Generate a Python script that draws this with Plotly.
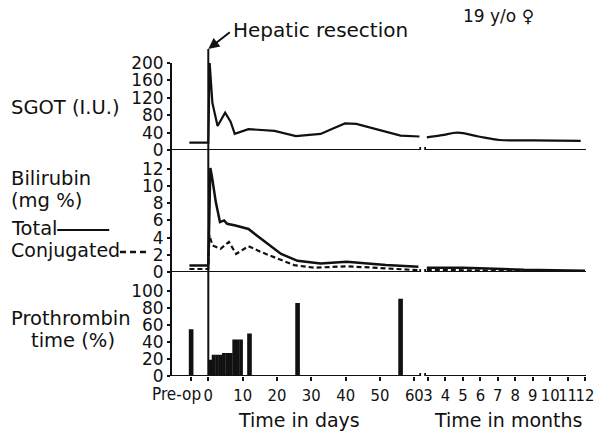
import plotly.graph_objects as go

# ---------------- data ----------------
# SGOT (I.U.)
sgot_days = [-5.5, 0, 0.4, 1.2, 2.7, 4.9, 6.5, 7.7, 11.7, 19.3, 25.5, 32.7, 36.5, 39.8, 43.1, 46.5, 49.8, 56, 61.5]
sgot_day_vals = [17, 17, 200, 108, 55, 86, 65, 37, 48, 44, 32, 37, 50, 61, 60, 53, 46, 33, 31]
sgot_months = [2.93, 3.8, 4.7, 5.9, 7.1, 9.0, 11.75]
sgot_month_vals = [29, 34, 40, 31, 23, 22, 21]

# Bilirubin (mg %)
bili_days = [-5.5, 0, 0.6, 1.1, 2.2, 3.4, 4.6, 5.5, 7.9, 11.7, 14.6, 21.2, 26, 32.7, 40.3, 45, 51.7, 61.2]
bili_total_days = [0.75, 0.75, 12.1, 11.0, 8.1, 5.8, 6.0, 5.6, 5.4, 5.0, 4.1, 2.1, 1.3, 1.0, 1.2, 1.05, 0.8, 0.6]
conj_days = [-5.5, 0, 0.3, 0.8, 1.2, 3.6, 6.0, 8.1, 11.7, 15.5, 21.2, 25, 30.8, 40.3, 49.8, 61.2]
conj_vals_days = [0.35, 0.35, 4.3, 3.7, 3.1, 2.7, 3.5, 2.1, 3.0, 2.3, 1.4, 0.8, 0.5, 0.66, 0.47, 0.2]
bili_months = [2.93, 5.0, 7.3, 8.5, 12.0]
bili_total_months = [0.5, 0.5, 0.35, 0.25, 0.15]
conj_months = [2.93, 6.0, 9.0, 12.0]
conj_vals_months = [0.25, 0.2, 0.1, 0.05]

# Prothrombin time (%)
pt_single_days = [-5, 12, 26, 56]          # -5 = Pre-op
pt_single_vals = [55, 50, 86, 91]
pt_block_days = [0, 1, 2, 3, 4, 5, 6, 7, 8, 9]
pt_block_vals = [19, 25, 25, 25, 27, 27, 27, 43, 43, 43]

# ticks
day_ticks = [-5, 0, 10, 20, 30, 40, 50, 60]
day_labels = ["", "0", "10", "20", "30", "40", "50", "60"]
month_ticks = [3, 4, 5, 6, 7, 8, 9, 10, 11, 12]
month_labels = [str(m) for m in month_ticks]
sgot_ticks = [0, 40, 80, 120, 160, 200]
bili_ticks = [0, 2, 4, 6, 8, 10, 12]
pt_ticks = [0, 20, 40, 60, 80, 100]

# ---------------- layout geometry ----------------
W, H = 603, 433
ML, MR, MT, MB = 172, 9, 63, 57
PW = W - ML - MR
PH = H - MT - MB


def px(x):
    return (x - ML) / PW


def py(y):
    return (H - MB - y) / PH


BREAK = 427
INK = "#111111"
TXT = "DejaVu Sans, Arial, sans-serif"
NARROW = "Liberation Sans Narrow, DejaVu Sans Condensed, Arial Narrow, sans-serif"

fig = go.Figure()

line = dict(color=INK, width=2.2)
dline = dict(color=INK, width=2.2, dash="5px,3px")

fig.add_trace(go.Scatter(x=sgot_days, y=sgot_day_vals, xaxis="x", yaxis="y", mode="lines", line=line))
fig.add_trace(go.Scatter(x=sgot_months, y=sgot_month_vals, xaxis="x2", yaxis="y", mode="lines",
                         line=dict(color=INK, width=2.2, shape="spline")))
fig.add_trace(go.Scatter(x=bili_days, y=bili_total_days, xaxis="x", yaxis="y2", mode="lines",
                         line=dict(color=INK, width=2.5)))
fig.add_trace(go.Scatter(x=conj_days, y=conj_vals_days, xaxis="x", yaxis="y2", mode="lines", line=dline))
fig.add_trace(go.Scatter(x=bili_months, y=bili_total_months, xaxis="x2", yaxis="y2", mode="lines",
                         line=dict(color=INK, width=2.5)))
fig.add_trace(go.Scatter(x=conj_months, y=conj_vals_months, xaxis="x2", yaxis="y2", mode="lines", line=dline))
fig.add_trace(go.Bar(x=pt_single_days, y=pt_single_vals, xaxis="x", yaxis="y3", width=1.35,
                     marker=dict(color=INK, line=dict(width=0))))
fig.add_trace(go.Bar(x=pt_block_days, y=pt_block_vals, xaxis="x", yaxis="y3", width=1.08, offset=0,
                     marker=dict(color=INK, line=dict(width=0))))

d_split = (BREAK - ML) / PW
day_px = 3.5
day0 = 209
month_px = 17.78
month3 = 433

yax_common = dict(showgrid=False, zeroline=False, showline=True, linecolor=INK, linewidth=2,
                  ticks="outside", ticklen=3, tickwidth=1.5, tickcolor=INK,
                  tickfont=dict(family=TXT, size=17, color=INK), anchor="x", tickmode="array")

xtickfont = dict(family=NARROW, size=16.5, color=INK)

fig.update_layout(
    width=W, height=H,
    margin=dict(l=ML, r=MR, t=MT, b=MB),
    paper_bgcolor="white", plot_bgcolor="white",
    showlegend=False, barmode="overlay",
    xaxis=dict(domain=[0, d_split], anchor="y3",
               range=[(ML - day0) / day_px, (BREAK - day0) / day_px],
               showgrid=False, zeroline=False, showline=False,
               tickmode="array", tickvals=day_ticks, ticktext=day_labels, tickangle=0,
               ticks="outside", ticklen=4, tickwidth=1.5, tickcolor=INK, tickfont=xtickfont),
    xaxis2=dict(domain=[d_split, 1], anchor="y3",
                range=[3 + (BREAK - month3) / month_px, 3 + (W - MR - month3) / month_px],
                showgrid=False, zeroline=False, showline=False,
                tickmode="array", tickvals=month_ticks, ticktext=month_labels, tickangle=0,
                ticks="outside", ticklen=4, tickwidth=1.5, tickcolor=INK, tickfont=xtickfont),
    yaxis=dict(domain=[py(150), 1], range=[0, 200], tickvals=sgot_ticks, **yax_common),
    yaxis2=dict(domain=[py(272), py(150)], range=[0, (272 - 150) / 8.6], tickvals=bili_ticks, **yax_common),
    yaxis3=dict(domain=[0, py(272)], range=[0, (376 - 272) / 0.85], tickvals=pt_ticks, **yax_common),
)

shapes = []
# hepatic resection line
shapes.append(dict(type="line", xref="x", yref="paper", x0=0, x1=0, y0=0, y1=py(49),
                   line=dict(color=INK, width=2)))
# zero lines with break
for yr in ["y", "y2", "y3"]:
    shapes.append(dict(type="line", xref="x domain", yref=yr, x0=0, x1=(425 - ML) / (BREAK - ML), y0=0, y1=0,
                       line=dict(color=INK, width=1.8)))
    shapes.append(dict(type="line", xref="x2 domain", yref=yr, x0=(430 - BREAK) / (W - MR - BREAK), x1=1,
                       y0=0, y1=0, line=dict(color=INK, width=1.8)))
    for xr, xx in [("x domain", (425 - ML) / (BREAK - ML)), ("x2 domain", (430 - BREAK) / (W - MR - BREAK))]:
        shapes.append(dict(type="line", xref=xr, yref=yr, x0=xx, x1=xx, ysizemode="pixel", yanchor=0,
                           y0=-3, y1=3, line=dict(color=INK, width=1.8)))
# legend line samples
shapes.append(dict(type="line", xref="paper", yref="paper", x0=px(55), x1=px(108), y0=py(230), y1=py(230),
                   line=dict(color=INK, width=2)))
shapes.append(dict(type="line", xref="paper", yref="paper", x0=px(119), x1=px(149), y0=py(252), y1=py(252),
                   line=dict(color=INK, width=2.5, dash="6px,4px")))
fig.update_layout(shapes=shapes)

ann = []


def label(text, x, y, size=19.5, xanchor="left", family=TXT):
    ann.append(dict(text=text, xref="paper", yref="paper", x=px(x), y=py(y), xanchor=xanchor,
                    yanchor="middle", showarrow=False, font=dict(family=family, size=size, color=INK)))


label("SGOT (I.U.)", 6, 107)
label("Bilirubin", 6, 178)
label("(mg %)", 6, 200)
label("Total", 6, 228)
label("Conjugated", 6, 250, size=19)
label("Prothrombin", 6, 318)
label("time (%)", 26, 340)
label("Hepatic resection", 323, 30, size=20, xanchor="center")
label("19 y/o ♀", 505, 16, size=17, xanchor="center")
label("Time in days", 301, 420, size=19, xanchor="center")
label("Time in months", 515, 420, size=19, xanchor="center")
label("Pre-op", 204, 394, size=17, xanchor="right", family=NARROW)

ann.append(dict(text="", xref="x", yref="paper", x=0, y=py(49), showarrow=True, axref="pixel", ayref="pixel",
                ax=23, ay=-18, arrowhead=2, arrowsize=1.1, arrowwidth=2, arrowcolor=INK))
fig.update_layout(annotations=ann)

fig.write_html("out.html", config={"displayModeBar": False},
               post_script="document.body.style.margin='0px';")
